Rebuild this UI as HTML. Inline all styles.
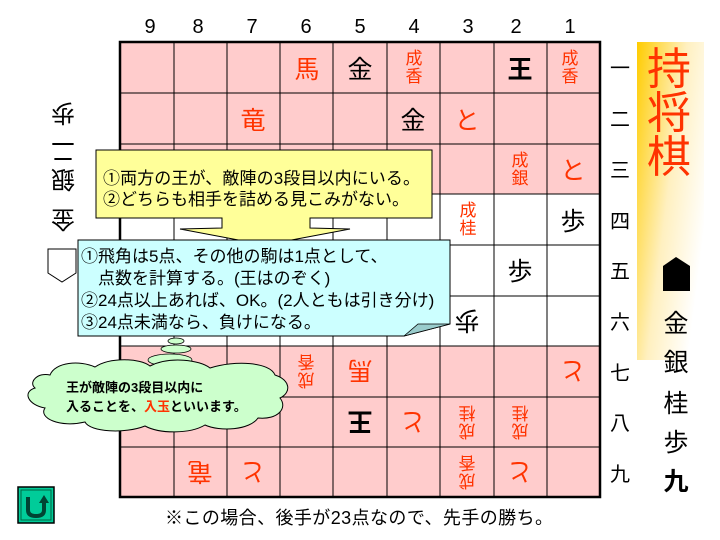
<!DOCTYPE html>
<html><head><meta charset="utf-8"><style>
body{margin:0;width:720px;height:540px;background:#fff;overflow:hidden}
svg{display:block}
text{font-family:"Liberation Sans","Noto Sans CJK JP",sans-serif}
</style></head><body>
<svg width="720" height="540" viewBox="0 0 720 540" xmlns="http://www.w3.org/2000/svg">
<defs>
<linearGradient id="g" x1="0" y1="0" x2="1" y2="0.6">
<stop offset="0" stop-color="#ffcc00"/><stop offset="0.55" stop-color="#fff0c0"/><stop offset="1" stop-color="#ffffff"/>
</linearGradient>
</defs>
<rect x="120" y="42" width="480" height="152" fill="#ffcccc"/>
<rect x="120" y="346" width="480" height="151" fill="#ffcccc"/>
<g stroke="#000" stroke-width="1">
<line x1="174" y1="42" x2="174" y2="497"/><line x1="227" y1="42" x2="227" y2="497"/>
<line x1="280" y1="42" x2="280" y2="497"/><line x1="333" y1="42" x2="333" y2="497"/>
<line x1="387" y1="42" x2="387" y2="497"/><line x1="440" y1="42" x2="440" y2="497"/>
<line x1="494" y1="42" x2="494" y2="497"/><line x1="547" y1="42" x2="547" y2="497"/>
<line x1="120" y1="93" x2="600" y2="93"/><line x1="120" y1="144" x2="600" y2="144"/>
<line x1="120" y1="194" x2="600" y2="194"/><line x1="120" y1="245" x2="600" y2="245"/>
<line x1="120" y1="296" x2="600" y2="296"/><line x1="120" y1="346" x2="600" y2="346"/>
<line x1="120" y1="397" x2="600" y2="397"/><line x1="120" y1="447" x2="600" y2="447"/>
</g>
<rect x="120" y="42" width="480" height="455" fill="none" stroke="#000" stroke-width="2.5"/>
<g font-size="20" text-anchor="middle" fill="#000">
<text x="150" y="33">9</text><text x="198" y="33">8</text><text x="252" y="33">7</text><text x="306" y="33">6</text><text x="360" y="33">5</text><text x="414" y="33">4</text><text x="468" y="33">3</text><text x="516" y="33">2</text><text x="570" y="33">1</text>
</g>
<g font-size="20" text-anchor="middle" fill="#000">
<text x="620" y="75">一</text><text x="620" y="126">二</text><text x="620" y="177">三</text><text x="620" y="228">四</text><text x="620" y="278">五</text><text x="620" y="329">六</text><text x="620" y="380">七</text><text x="620" y="430">八</text><text x="620" y="481">九</text>
</g>
<g font-size="25" text-anchor="middle">
<text x="307" y="78" fill="#ff3300">馬</text>
<text x="360" y="78" fill="#000">金</text>
<text x="520" y="78" fill="#000" font-weight="bold">王</text>
<text x="253" y="129" fill="#ff3300">竜</text>
<text x="413" y="129" fill="#000">金</text>
<text x="467" y="129" fill="#ff3300">と</text>
<text x="573" y="179" fill="#ff3300">と</text>
<text x="573" y="230" fill="#000">歩</text>
<text x="520" y="280" fill="#000">歩</text>
</g>
<g font-size="17" text-anchor="middle" fill="#ff3300">
<text x="414" y="64">成</text><text x="414" y="82">香</text>
<text x="570" y="64">成</text><text x="570" y="82">香</text>
<text x="520" y="166">成</text><text x="520" y="184">銀</text>
<text x="468" y="216">成</text><text x="468" y="234">桂</text>
</g>
<g font-size="25" text-anchor="middle">
<text transform="translate(467,321) rotate(180)" y="9" fill="#000">歩</text>
<text transform="translate(360,371) rotate(180)" y="9" fill="#ff3300">馬</text>
<text transform="translate(573,371) rotate(180)" y="9" fill="#ff3300">と</text>
<text transform="translate(360,422) rotate(180)" y="9" fill="#000" font-weight="bold">王</text>
<text transform="translate(413,422) rotate(180)" y="9" fill="#ff3300">と</text>
<text transform="translate(200,472) rotate(180)" y="9" fill="#ff3300">竜</text>
<text transform="translate(253,472) rotate(180)" y="9" fill="#ff3300">と</text>
<text transform="translate(520,472) rotate(180)" y="9" fill="#ff3300">と</text>
</g>
<g font-size="17" text-anchor="middle" fill="#ff3300">
<g transform="translate(306,371) rotate(180)"><text y="-3">成</text><text y="15">香</text></g>
<g transform="translate(467,422) rotate(180)"><text y="-3">成</text><text y="15">桂</text></g>
<g transform="translate(520,422) rotate(180)"><text y="-3">成</text><text y="15">桂</text></g>
<g transform="translate(467,472) rotate(180)"><text y="-3">成</text><text y="15">香</text></g>
</g>
<g font-size="24" text-anchor="middle" fill="#000">
<text transform="translate(63,114) rotate(180)" y="9">歩</text>
<text transform="translate(63,152) rotate(180)" y="9">二</text>
<text transform="translate(63,180) rotate(180)" y="9">銀</text>
<text transform="translate(63,220) rotate(180)" y="9">金</text>
</g>
<polygon points="48,249 76,249 76,273 62,282 48,273" fill="#fff" stroke="#000" stroke-width="1"/>
<rect x="637" y="42" width="67" height="318" fill="url(#g)"/>
<g font-size="44" text-anchor="middle" fill="#ff3300">
<text x="669" y="84">持</text><text x="669" y="128">将</text><text x="669" y="172">棋</text>
</g>
<polygon points="676,257 690,266 690,291 663,291 663,266" fill="#000"/>
<g font-size="25" text-anchor="middle" fill="#000">
<text x="676" y="332">金</text><text x="676" y="371">銀</text><text x="676" y="412">桂</text><text x="676" y="451">歩</text><text x="676" y="490" font-weight="bold">九</text>
</g>
<polygon points="96,150 432,150 432,218 310,218 310,228 350,229 265,245 180,229 222,228 222,218 96,218" fill="#ffff99" stroke="#000" stroke-width="1"/>
<g font-size="17" fill="#000">
<text x="103" y="184" textLength="317">①両方の王が、敵陣の3段目以内にいる。</text>
<text x="103" y="205">②どちらも相手を詰める見こみがない。</text>
</g>
<polygon points="78,240 450,240 450,324 404,336 78,336" fill="#ccffff" stroke="#000" stroke-width="1"/>
<polygon points="404,336 418,324 450,324" fill="#99cccc" stroke="#000" stroke-width="0.8"/>
<g font-size="17" fill="#000">
<text x="81" y="262">①飛角は5点、その他の駒は1点として、</text>
<text x="81" y="284">　点数を計算する。(王はのぞく)</text>
<text x="81" y="306">②24点以上あれば、OK。(2人ともは引き分け)</text>
<text x="81" y="328">③24点未満なら、負けになる。</text>
</g>
<ellipse cx="176" cy="341" rx="8" ry="3" fill="#ccffcc" stroke="#000" stroke-width="0.8"/>
<ellipse cx="176" cy="349" rx="15" ry="4" fill="#ccffcc" stroke="#000" stroke-width="0.8"/>
<ellipse cx="170" cy="360" rx="22" ry="6" fill="#ccffcc" stroke="#000" stroke-width="0.8"/>
<path d="M50,375 C55,362 80,360 95,367 C110,357 140,358 150,366 C170,356 200,360 210,368 C235,360 270,362 275,375 C290,380 292,392 280,398 C288,408 278,420 258,418 C250,430 220,432 205,425 C190,434 160,434 145,426 C125,434 90,432 85,422 C60,428 38,418 45,408 C28,405 22,392 35,388 C28,382 38,372 50,375 Z" fill="#ccffcc" stroke="#000" stroke-width="1"/>
<g font-size="13" font-weight="bold" fill="#000">
<text x="66" y="392">王が敵陣の3段目以内に</text>
<text x="66" y="411">入ることを、<tspan fill="#ff3300">入玉</tspan>といいます。</text>
</g>
<text x="165" y="524" font-size="18" fill="#000" textLength="388" lengthAdjust="spacing">※この場合、後手が23点なので、先手の勝ち。</text>
<rect x="18" y="487" width="36" height="36" fill="#00cc99" stroke="#000" stroke-width="1.5"/>
<rect x="21" y="490" width="30" height="30" fill="none" stroke="#006644" stroke-width="1"/>
<path d="M28,497 L28,510 Q28,516 36,516 Q44,516 44,510 L44,502" fill="none" stroke="#004433" stroke-width="4"/>
<polygon points="39,503 44,495 49,503" fill="#004433"/>
</svg>
</body></html>
